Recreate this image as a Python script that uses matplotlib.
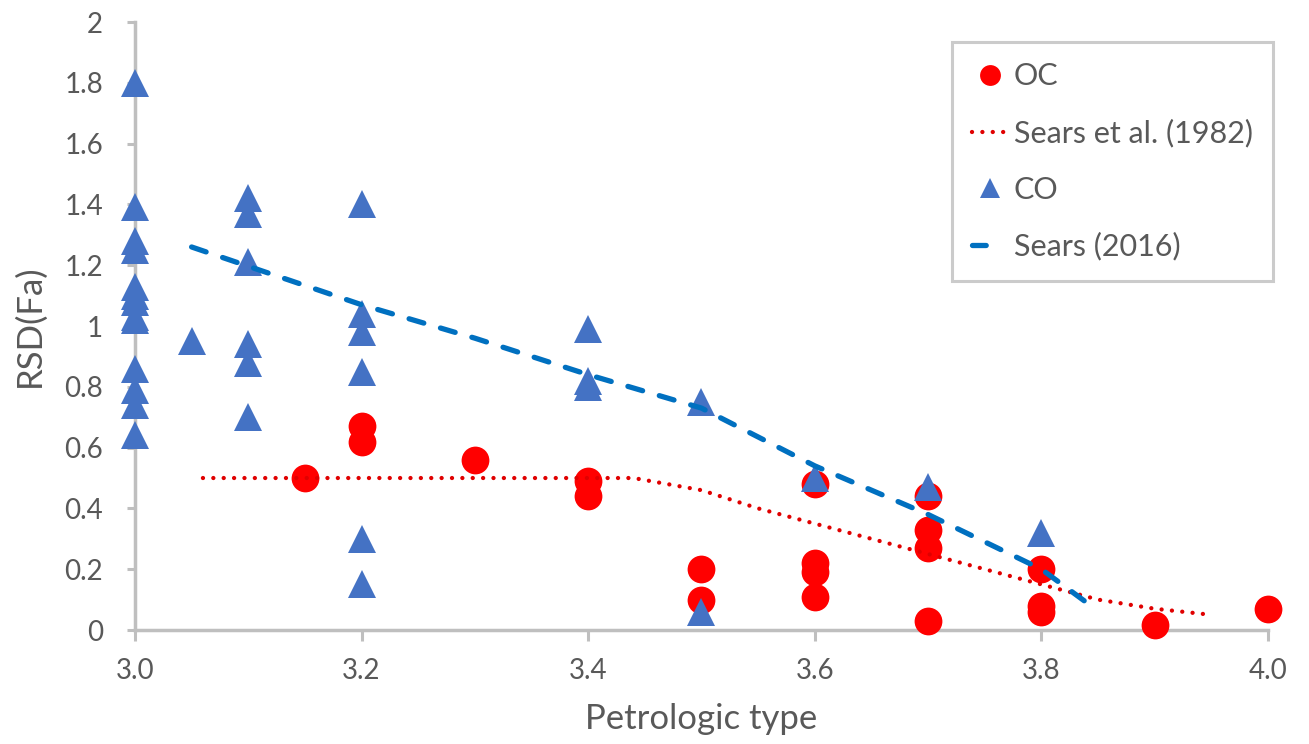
import matplotlib
matplotlib.use("Agg")
import matplotlib.pyplot as plt
from matplotlib.lines import Line2D

plt.rcParams['font.family'] = ['Lato', 'DejaVu Sans']

# ---- data ----
oc_x = [3.15, 3.2, 3.2, 3.3, 3.4, 3.4, 3.5, 3.5, 3.6, 3.6, 3.6, 3.6,
        3.7, 3.7, 3.7, 3.7, 3.8, 3.8, 3.8, 3.9, 4.0]
oc_y = [0.50, 0.67, 0.62, 0.56, 0.49, 0.44, 0.20, 0.10, 0.48, 0.22, 0.19, 0.11,
        0.44, 0.33, 0.27, 0.03, 0.20, 0.08, 0.06, 0.015, 0.07]

co_x = [3.0] * 13 + [3.05] + [3.1] * 6 + [3.2] * 6 + [3.4] * 3 + [3.5] * 2 + [3.6, 3.7, 3.8]
co_y = [1.80, 1.39, 1.28, 1.25, 1.13, 1.10, 1.08, 1.03, 1.02, 0.86, 0.79, 0.74, 0.64,
        0.95,
        1.42, 1.37, 1.21, 0.94, 0.88, 0.70,
        1.40, 1.04, 0.98, 0.85, 0.30, 0.15,
        0.99, 0.82, 0.80,
        0.75, 0.06,
        0.50, 0.47, 0.32]

sears82_x = [3.06, 3.44, 3.5, 3.55, 3.6, 3.7, 3.8, 3.85, 3.9, 3.95]
sears82_y = [0.50, 0.50, 0.46, 0.40, 0.35, 0.25, 0.15, 0.10, 0.07, 0.05]

sears16_x = [3.05, 3.2, 3.3, 3.4, 3.5, 3.6, 3.7, 3.8, 3.84]
sears16_y = [1.26, 1.07, 0.96, 0.84, 0.73, 0.54, 0.38, 0.20, 0.09]

x_ticks = [3.0, 3.2, 3.4, 3.6, 3.8, 4.0]
x_labels = ["3.0", "3.2", "3.4", "3.6", "3.8", "4.0"]
y_ticks = [0, 0.2, 0.4, 0.6, 0.8, 1.0, 1.2, 1.4, 1.6, 1.8, 2.0]
y_labels = ["0", "0.2", "0.4", "0.6", "0.8", "1", "1.2", "1.4", "1.6", "1.8", "2"]

# ---- style ----
RED = "#FF0000"
DOTRED = "#E00000"
TRI = "#4472C4"
BLUE = "#0070C0"
GRID = "#BFBFBF"
TXT = "#595959"

fig = plt.figure(figsize=(13.09, 7.44), dpi=100)
ax = fig.add_axes([0.1031, 0.1532, 0.8656, 0.8172])

ax.plot(oc_x, oc_y, linestyle='none', marker='o', markersize=20,
        color=RED, markeredgewidth=0, zorder=3, clip_on=False)
ax.plot(sears82_x, sears82_y, linestyle=(0, (0.01, 2.4)), linewidth=3.1,
        color=DOTRED, dash_capstyle='round', zorder=4)
ax.plot(co_x, co_y, linestyle='none', marker='^', markersize=20,
        color=TRI, markeredgewidth=0, zorder=5, clip_on=False)
ax.plot(sears16_x, sears16_y, linestyle=(0, (2.9, 3.3)), linewidth=3.8,
        color=BLUE, dash_capstyle='round', zorder=6)

ax.set_xlim(3.0, 4.0)
ax.set_ylim(0, 2.0)
ax.set_xticks(x_ticks)
ax.set_xticklabels(x_labels)
ax.set_yticks(y_ticks)
ax.set_yticklabels(y_labels)

for side in ['top', 'right']:
    ax.spines[side].set_visible(False)
for side in ['left', 'bottom']:
    ax.spines[side].set_color(GRID)
    ax.spines[side].set_linewidth(2.5)
    ax.spines[side].set_zorder(1)

ax.tick_params(axis='x', direction='out', length=8, width=2.2, color=GRID,
               labelsize=20, labelcolor=TXT, pad=12)
ax.tick_params(axis='y', direction='out', length=6, width=2.2, color=GRID,
               labelsize=20, labelcolor=TXT, pad=17)

ax.set_xlabel("Petrologic type", fontsize=25, color=TXT, labelpad=14)
ax.set_ylabel("RSD(Fa)", fontsize=25, color=TXT, labelpad=13)

# legend handles (styling only)
handles = [
    Line2D([], [], linestyle='none', marker='o', markersize=15, color=RED, markeredgewidth=0),
    Line2D([], [], linestyle=(0, (0.01, 2.4)), linewidth=3.1, color=DOTRED, dash_capstyle='round'),
    Line2D([], [], linestyle='none', marker='^', markersize=15, color=TRI, markeredgewidth=0),
    Line2D([], [], linestyle=(0, (2.6, 12)), linewidth=3.8, color=BLUE, dash_capstyle='round'),
]
labels = ["OC", "Sears et al. (1982)", "CO", "Sears (2016)"]

leg = ax.legend(handles, labels, loc='upper right', bbox_to_anchor=(1.0044, 0.967),
                fontsize=22, frameon=True, fancybox=False, edgecolor=GRID,
                labelspacing=0.93, handlelength=1.2, handletextpad=0.17,
                borderpad=0.66, borderaxespad=0, labelcolor=TXT)
leg.get_frame().set_linewidth(2.2)

fig.savefig("out.png", dpi=100)
